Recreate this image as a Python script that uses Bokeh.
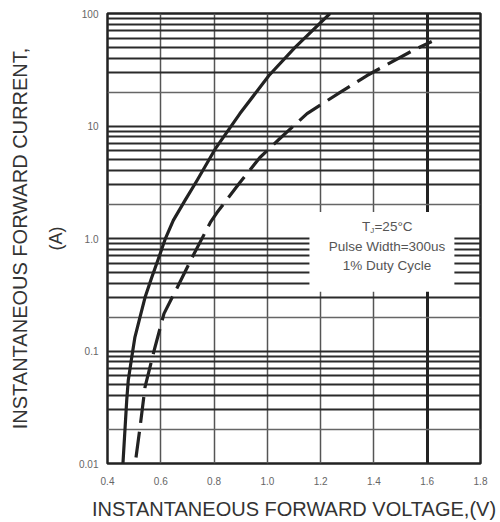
from bokeh.plotting import figure
from bokeh.models import FixedTicker, LogAxis, Grid, BoxAnnotation, Label, Range1d
from bokeh.embed import file_html
from bokeh.resources import INLINE

# ---- data ----
solid_v = [0.458, 0.472, 0.478, 0.491, 0.503, 0.522, 0.541, 0.566, 0.591, 0.616, 0.647, 0.691, 0.736, 0.807, 0.897, 1.006, 1.104, 1.235]
solid_i = [0.010, 0.036, 0.055, 0.088, 0.133, 0.20, 0.30, 0.45, 0.66, 0.98, 1.45, 2.18, 3.28, 6.4, 12.9, 28.1, 50.0, 100.0]

dash_v = [0.507, 0.522, 0.541, 0.575, 0.612, 0.660, 0.722, 0.786, 0.811, 0.897, 0.972, 1.047, 1.149, 1.273, 1.374, 1.546, 1.617]
dash_i = [0.0113, 0.0209, 0.048, 0.101, 0.215, 0.36, 0.71, 1.39, 1.70, 3.15, 5.25, 7.74, 12.9, 19.9, 28.1, 46.9, 56.4]

x_ticks = [0.4, 0.6, 0.8, 1.0, 1.2, 1.4, 1.6, 1.8]
x_tick_labels = ["0.4", "0.6", "0.8", "1.0", "1.2", "1.4", "1.6", "1.8"]
y_ticks = [0.01, 0.1, 1, 10, 100]
y_tick_labels = ["0.01", "0.1", "1.0", "10", "100"]
minor_mults = [2, 3, 4, 5, 6, 7, 8, 9]

note_lines = ["Pulse Width=300us", "1% Duty Cycle"]

FONT = "Liberation Sans"
INK = "#222222"

p = figure(width=500, height=522, y_axis_type="log",
           x_range=Range1d(x_ticks[0], x_ticks[-1]),
           y_range=Range1d(y_ticks[0], y_ticks[-1]),
           output_backend="svg", toolbar_location=None,
           min_border_left=107, min_border_right=20,
           min_border_top=13, min_border_bottom=59)
p.background_fill_color = "white"
p.border_fill_color = "white"
p.outline_line_color = INK
p.outline_line_width = 2.5

# ---- grids ----
p.xgrid.ticker = FixedTicker(ticks=x_ticks[1:-2])
p.xgrid.grid_line_color = "#555555"
p.xgrid.grid_line_width = 1.5
p.add_layout(Grid(dimension=0, ticker=FixedTicker(ticks=[x_ticks[-2]]),
                  grid_line_color=INK, grid_line_width=3))

decades = y_ticks[:-1]
heavy_y = [d * m for d in decades for m in minor_mults if m != 2] + y_ticks
light_y = [d * 2 for d in decades]
p.ygrid.ticker = FixedTicker(ticks=heavy_y)
p.ygrid.grid_line_color = "#2a2a2a"
p.ygrid.grid_line_width = 2.2
p.add_layout(Grid(dimension=1, ticker=FixedTicker(ticks=light_y),
                  grid_line_color="#666666", grid_line_width=1.3))

# ---- curves ----
p.line(solid_v, solid_i, line_color=INK, line_width=3.2, line_join="round")
p.line(dash_v, dash_i, line_color=INK, line_width=3.2, line_dash="26 9")

# ---- note box ----
p.add_layout(BoxAnnotation(left=1.158, right=1.702, bottom=0.336, top=1.72,
                           fill_color="white", fill_alpha=1.0, line_color=None))
tc = "#555555"
p.add_layout(Label(x=1.449, y=1.28, x_offset=-25, text="T", text_font=FONT,
                   text_font_size="13.5px", text_color=tc, text_align="left",
                   text_baseline="middle"))
p.add_layout(Label(x=1.449, y=1.28, x_offset=-16.8, y_offset=-4, text="J", text_font=FONT,
                   text_font_size="8px", text_color=tc, text_align="left",
                   text_baseline="middle"))
p.add_layout(Label(x=1.449, y=1.28, x_offset=-12.5, text="=25°C", text_font=FONT,
                   text_font_size="13.5px", text_color=tc, text_align="left",
                   text_baseline="middle"))
for txt, yy in zip(note_lines, [0.849, 0.575]):
    p.add_layout(Label(x=1.449, y=yy, text=txt, text_font=FONT,
                       text_font_size="13.5px", text_color=tc, text_align="center",
                       text_baseline="middle"))

# ---- axes ----
for ax in (p.xaxis[0], p.yaxis[0]):
    ax.axis_line_color = None
    ax.major_tick_line_color = None
    ax.minor_tick_line_color = None
    ax.major_tick_out = 0
    ax.major_tick_in = 0
    ax.minor_tick_out = 0
    ax.minor_tick_in = 0
    ax.major_label_text_font = FONT
    ax.major_label_text_font_size = "10px"
    ax.major_label_text_color = "#666666"
    ax.axis_label_text_font = FONT
    ax.axis_label_text_font_size = "18px"
    ax.axis_label_text_font_style = "normal"
    ax.axis_label_text_color = "#333333"

p.xaxis.ticker = FixedTicker(ticks=x_ticks)
p.xaxis.major_label_overrides = dict(zip(x_ticks, x_tick_labels))
p.xaxis.major_label_standoff = 13
p.xaxis.axis_label = "INSTANTANEOUS FORWARD VOLTAGE,(V)"
p.xaxis.axis_label_text_font_size = "20px"
p.xaxis.axis_label_standoff = 10

p.yaxis.ticker = FixedTicker(ticks=y_ticks)
p.yaxis.major_label_overrides = dict(zip(y_ticks, y_tick_labels))
p.yaxis.major_label_standoff = 9
p.yaxis.axis_label = "(A)"
p.yaxis.axis_label_standoff = 10

ax2 = LogAxis(ticker=FixedTicker(ticks=[]), axis_label="INSTANTANEOUS FORWARD CURRENT,",
              axis_line_color=None, major_tick_line_color=None, minor_tick_line_color=None,
              major_label_text_font_size="0px", major_label_standoff=0,
              major_tick_out=0, major_tick_in=0, minor_tick_out=0, minor_tick_in=0,
              axis_label_standoff=13, axis_label_text_font=FONT,
              axis_label_text_font_size="20px", axis_label_text_font_style="normal",
              axis_label_text_color="#333333")
p.add_layout(ax2, "left")

open("out.html", "w").write(file_html(p, INLINE))
